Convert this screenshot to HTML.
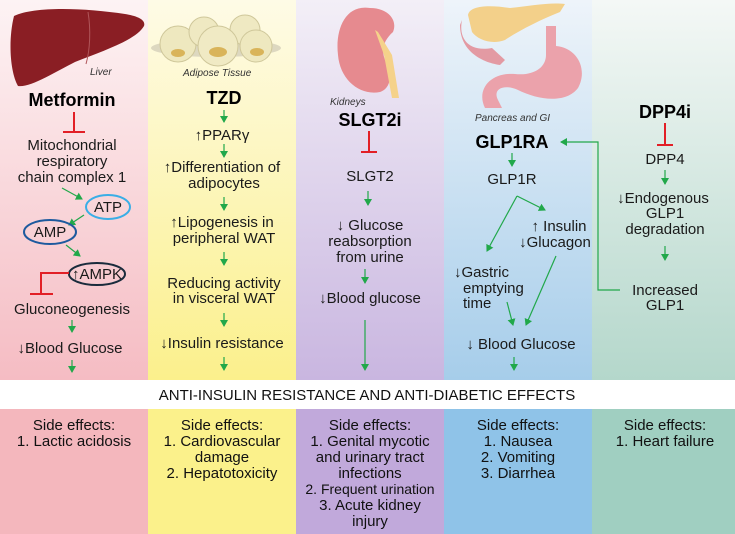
<!DOCTYPE html>
<html><head><meta charset="utf-8"><style>
html,body{margin:0;padding:0;background:#fff}
svg{display:block}
text{font-family:"Liberation Sans",sans-serif;fill:#1a1a1a}
.t{font-size:15px;text-anchor:middle}
.b{font-size:18px;font-weight:bold;text-anchor:middle;fill:#000}
.s{font-size:15px;text-anchor:middle;fill:#111}
.i{font-size:10px;font-style:italic;fill:#333}
</style></head><body>
<svg width="735" height="534" viewBox="0 0 735 534" xmlns="http://www.w3.org/2000/svg">
<defs>
<linearGradient id="g1" x1="0" y1="0" x2="0" y2="1"><stop offset="0" stop-color="#fdf3f4"/><stop offset="1" stop-color="#f5bcc3"/></linearGradient>
<linearGradient id="g2" x1="0" y1="0" x2="0" y2="1"><stop offset="0" stop-color="#fefbe6"/><stop offset="1" stop-color="#fbf08c"/></linearGradient>
<linearGradient id="g3" x1="0" y1="0" x2="0" y2="1"><stop offset="0" stop-color="#f3eff7"/><stop offset="1" stop-color="#c9b6e0"/></linearGradient>
<linearGradient id="g4" x1="0" y1="0" x2="0" y2="1"><stop offset="0" stop-color="#eef4fa"/><stop offset="1" stop-color="#a6cdea"/></linearGradient>
<linearGradient id="g5" x1="0" y1="0" x2="0" y2="1"><stop offset="0" stop-color="#f4f8f6"/><stop offset="1" stop-color="#b4d7cb"/></linearGradient>
<marker id="a" markerWidth="8" markerHeight="8" refX="6" refY="4" orient="auto" markerUnits="userSpaceOnUse"><path d="M0,0 L7,4 L0,8 Z" fill="#21a84a"/></marker>
</defs>
<rect x="0" y="0" width="148" height="380" fill="url(#g1)"/>
<rect x="148" y="0" width="148" height="380" fill="url(#g2)"/>
<rect x="296" y="0" width="148" height="380" fill="url(#g3)"/>
<rect x="444" y="0" width="148" height="380" fill="url(#g4)"/>
<rect x="592" y="0" width="143" height="380" fill="url(#g5)"/>
<rect x="0" y="380" width="735" height="29" fill="#fff"/>
<rect x="0" y="409" width="148" height="125" fill="#f4b7bd"/>
<rect x="148" y="409" width="148" height="125" fill="#fbf18b"/>
<rect x="296" y="409" width="148" height="125" fill="#c1a9db"/>
<rect x="444" y="409" width="148" height="125" fill="#8fc3e8"/>
<rect x="592" y="409" width="143" height="125" fill="#a0cfc1"/>

<!-- liver -->
<path d="M14,16 C35,6 85,8 125,14 C138,16 146,20 144,26 C136,40 105,50 75,62 C55,72 30,88 18,86 C10,72 8,40 14,16 Z" fill="#8a1e24"/>
<path d="M88,12 C91,30 90,50 86,64" stroke="#b0565a" stroke-width="1" fill="none"/>
<text class="i" x="90" y="75">Liver</text>
<!-- adipose -->
<ellipse cx="216" cy="48" rx="65" ry="9" fill="#ddd8c0"/>
<circle cx="178" cy="44" r="18" fill="#eee8bf" stroke="#cfc79a"/>
<circle cx="204" cy="32" r="15" fill="#efe9c2" stroke="#cfc79a"/>
<circle cx="245" cy="30" r="15" fill="#efe9c2" stroke="#cfc79a"/>
<circle cx="256" cy="46" r="16" fill="#eee8bf" stroke="#cfc79a"/>
<circle cx="218" cy="46" r="20" fill="#f0eac4" stroke="#cfc79a"/>
<ellipse cx="218" cy="52" rx="9" ry="5" fill="#d9b45a"/>
<ellipse cx="178" cy="53" rx="7" ry="4" fill="#d9b45a"/>
<ellipse cx="257" cy="52" rx="7" ry="4" fill="#d9b45a"/>
<text class="i" x="183" y="76">Adipose Tissue</text>
<!-- kidney -->
<path d="M370,8 C345,4 335,30 338,55 C340,80 360,96 380,92 C392,88 392,72 386,62 C380,50 384,40 393,32 C398,20 388,8 370,8 Z" fill="#e68a8f"/>
<path d="M375,30 L384,55 L392,98 L399,98 L392,55 L378,32 Z" fill="#f5d28a"/>
<text class="i" x="330" y="105">Kidneys</text>
<!-- pancreas/stomach -->
<path d="M468,15 C470,5 490,5 510,8 C530,6 550,2 565,4 L560,12 C540,20 520,30 505,40 C492,45 478,40 472,32 Z" fill="#f3d08a"/>
<path d="M462,20 C458,40 470,52 492,48 L505,60 L500,65 C480,62 460,50 460,25 Z" fill="#e39aa3"/>
<path d="M546,26 L556,26 L556,46 C578,48 588,70 578,88 C566,104 538,100 518,90 C505,84 492,88 498,100 L502,108 L485,108 C476,90 490,72 515,74 C533,76 546,68 546,55 Z" fill="#eba2ab"/>
<text class="i" x="475" y="121">Pancreas and GI</text>

<!-- column 1 -->
<text class="b" x="72" y="106">Metformin</text>
<path d="M74,112 V132 M63,132 H85" stroke="#e21f26" stroke-width="2" fill="none"/>
<text class="t" x="72" y="150">Mitochondrial</text>
<text class="t" x="72" y="166">respiratory</text>
<text class="t" x="72" y="182">chain complex 1</text>
<line x1="62" y1="188" x2="82" y2="199" stroke="#21a84a" stroke-width="1.2" marker-end="url(#a)"/>
<ellipse cx="108" cy="207" rx="22" ry="12" fill="none" stroke="#3aaee6" stroke-width="2"/>
<text class="t" x="108" y="212">ATP</text>
<line x1="84" y1="215" x2="69" y2="225" stroke="#21a84a" stroke-width="1.2" marker-end="url(#a)"/>
<ellipse cx="50" cy="232" rx="26" ry="12" fill="none" stroke="#1d5a9e" stroke-width="2"/>
<text class="t" x="50" y="237">AMP</text>
<line x1="66" y1="245" x2="80" y2="256" stroke="#21a84a" stroke-width="1.2" marker-end="url(#a)"/>
<ellipse cx="97" cy="274" rx="28" ry="11" fill="none" stroke="#1a2b3c" stroke-width="2"/>
<text class="t" x="97" y="279">↑AMPK</text>
<path d="M69,273 H41 V294 M30,294 H53" stroke="#e21f26" stroke-width="2" fill="none"/>
<text class="t" x="72" y="314">Gluconeogenesis</text>
<line x1="72" y1="320" x2="72" y2="332" stroke="#21a84a" stroke-width="1.2" marker-end="url(#a)"/>
<text class="t" x="70" y="353">↓Blood Glucose</text>
<line x1="72" y1="360" x2="72" y2="372" stroke="#21a84a" stroke-width="1.2" marker-end="url(#a)"/>

<!-- column 2 -->
<text class="b" x="224" y="104">TZD</text>
<line x1="224" y1="110" x2="224" y2="122" stroke="#21a84a" stroke-width="1.2" marker-end="url(#a)"/>
<text class="t" x="222" y="140">↑PPARγ</text>
<line x1="224" y1="144" x2="224" y2="157" stroke="#21a84a" stroke-width="1.2" marker-end="url(#a)"/>
<text class="t" x="222" y="172">↑Differentiation of</text>
<text class="t" x="224" y="188">adipocytes</text>
<line x1="224" y1="197" x2="224" y2="210" stroke="#21a84a" stroke-width="1.2" marker-end="url(#a)"/>
<text class="t" x="222" y="227">↑Lipogenesis in</text>
<text class="t" x="224" y="243">peripheral WAT</text>
<line x1="224" y1="252" x2="224" y2="265" stroke="#21a84a" stroke-width="1.2" marker-end="url(#a)"/>
<text class="t" x="224" y="288">Reducing activity</text>
<text class="t" x="224" y="303">in visceral WAT</text>
<line x1="224" y1="313" x2="224" y2="326" stroke="#21a84a" stroke-width="1.2" marker-end="url(#a)"/>
<text class="t" x="222" y="348">↓Insulin resistance</text>
<line x1="224" y1="357" x2="224" y2="370" stroke="#21a84a" stroke-width="1.2" marker-end="url(#a)"/>

<!-- column 3 -->
<text class="b" x="370" y="126">SLGT2i</text>
<path d="M369,131 V152 M361,152 H377" stroke="#e21f26" stroke-width="2" fill="none"/>
<text class="t" x="370" y="181">SLGT2</text>
<line x1="368" y1="191" x2="368" y2="205" stroke="#21a84a" stroke-width="1.2" marker-end="url(#a)"/>
<text class="t" x="370" y="230">↓ Glucose</text>
<text class="t" x="370" y="246">reabsorption</text>
<text class="t" x="370" y="262">from urine</text>
<line x1="365" y1="269" x2="365" y2="283" stroke="#21a84a" stroke-width="1.2" marker-end="url(#a)"/>
<text class="t" x="370" y="303">↓Blood glucose</text>
<line x1="365" y1="320" x2="365" y2="370" stroke="#21a84a" stroke-width="1.2" marker-end="url(#a)"/>

<!-- column 4 -->
<text class="b" x="512" y="148">GLP1RA</text>
<line x1="512" y1="153" x2="512" y2="166" stroke="#21a84a" stroke-width="1.2" marker-end="url(#a)"/>
<text class="t" x="512" y="184">GLP1R</text>
<line x1="517" y1="196" x2="545" y2="210" stroke="#21a84a" stroke-width="1.2" marker-end="url(#a)"/>
<line x1="517" y1="196" x2="487" y2="251" stroke="#21a84a" stroke-width="1.2" marker-end="url(#a)"/>
<text class="t" x="559" y="231">↑ Insulin</text>
<text class="t" x="555" y="247">↓Glucagon</text>
<text class="t" x="454" y="277" style="text-anchor:start">↓Gastric</text>
<text class="t" x="463" y="293" style="text-anchor:start">emptying</text>
<text class="t" x="463" y="308" style="text-anchor:start">time</text>
<line x1="507" y1="302" x2="513" y2="325" stroke="#21a84a" stroke-width="1.2" marker-end="url(#a)"/>
<line x1="556" y1="256" x2="526" y2="325" stroke="#21a84a" stroke-width="1.2" marker-end="url(#a)"/>
<text class="t" x="521" y="349">↓ Blood Glucose</text>
<line x1="514" y1="357" x2="514" y2="370" stroke="#21a84a" stroke-width="1.2" marker-end="url(#a)"/>
<path d="M620,290 H598 V142 H561" stroke="#21a84a" stroke-width="1.2" fill="none" marker-end="url(#a)"/>

<!-- column 5 -->
<text class="b" x="665" y="118">DPP4i</text>
<path d="M665,123 V145 M657,145 H673" stroke="#e21f26" stroke-width="2" fill="none"/>
<text class="t" x="665" y="164">DPP4</text>
<line x1="665" y1="170" x2="665" y2="184" stroke="#21a84a" stroke-width="1.2" marker-end="url(#a)"/>
<text class="t" x="663" y="203">↓Endogenous</text>
<text class="t" x="665" y="218">GLP1</text>
<text class="t" x="665" y="234">degradation</text>
<line x1="665" y1="246" x2="665" y2="260" stroke="#21a84a" stroke-width="1.2" marker-end="url(#a)"/>
<text class="t" x="665" y="295">Increased</text>
<text class="t" x="665" y="310">GLP1</text>

<text class="s" x="367" y="400">ANTI-INSULIN RESISTANCE AND ANTI-DIABETIC EFFECTS</text>

<text class="s" x="74" y="430">Side effects:</text>
<text class="s" x="74" y="446">1. Lactic acidosis</text>
<text class="s" x="222" y="430">Side effects:</text>
<text class="s" x="222" y="446">1. Cardiovascular</text>
<text class="s" x="222" y="462">damage</text>
<text class="s" x="222" y="478">2. Hepatotoxicity</text>
<text class="s" x="370" y="430">Side effects:</text>
<text class="s" x="370" y="446">1. Genital mycotic</text>
<text class="s" x="370" y="462">and urinary tract</text>
<text class="s" x="370" y="478">infections</text>
<text class="s" x="370" y="494" style="font-size:14px">2. Frequent urination</text>
<text class="s" x="370" y="510">3. Acute kidney</text>
<text class="s" x="370" y="526">injury</text>
<text class="s" x="518" y="430">Side effects:</text>
<text class="s" x="518" y="446">1. Nausea</text>
<text class="s" x="518" y="462">2. Vomiting</text>
<text class="s" x="518" y="478">3. Diarrhea</text>
<text class="s" x="665" y="430">Side effects:</text>
<text class="s" x="665" y="446">1. Heart failure</text>
</svg>
</body></html>
